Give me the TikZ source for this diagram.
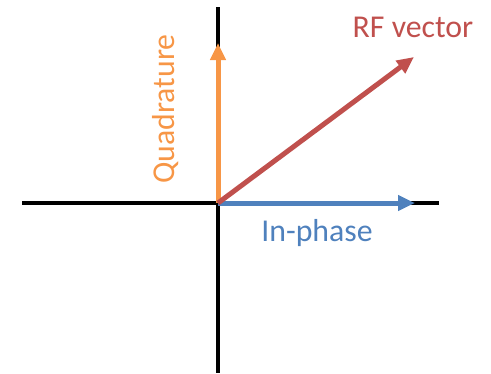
\documentclass[tikz,border=0pt]{standalone}
\usepackage{fontspec}
\setmainfont{Carlito}
\usepackage{tikz}
\usetikzlibrary{arrows.meta}
\definecolor{quadorange}{HTML}{F79646}
\definecolor{phaseblue}{HTML}{4F81BD}
\definecolor{rfred}{HTML}{C0504D}

\begin{document}
\begin{tikzpicture}[
  x=1pt, y=-1pt,
  axis/.style={line width=4.5pt, draw=black},
  vec/.style={line width=5pt, -{Triangle[length=17pt,width=15pt]}},
  lbl/.style={font=\fontsize{31.8}{38}\selectfont, inner sep=0pt}
]
\useasboundingbox (0,0) rectangle (491,373);
% axes
\coordinate (o) at (218,203);
\coordinate (xl) at (22,203);
\coordinate (xr) at (439,203);
\coordinate (yt) at (218,7);
\coordinate (yb) at (218,373);
\draw[axis] (xl) -- (xr);
\draw[axis] (yt) -- (yb);
% vectors
\coordinate (q) at (218,43);
\coordinate (i) at (415,203);
\coordinate (rf) at (414,57);
\draw[vec, quadorange] (o) -- (q);
\draw[vec, phaseblue] (o) -- (i);
\draw[vec, rfred] (o) -- (rf);
% labels
\node[lbl, text=rfred, anchor=base] (rflbl) at (413,37) {RF vector};
\node[lbl, text=phaseblue, anchor=base] (iplbl) at (317,241) {In-phase};
\node[lbl, text=quadorange, anchor=base, rotate=90] (qdlbl) at (174,109) {Quadrature};
\end{tikzpicture}
\end{document}
